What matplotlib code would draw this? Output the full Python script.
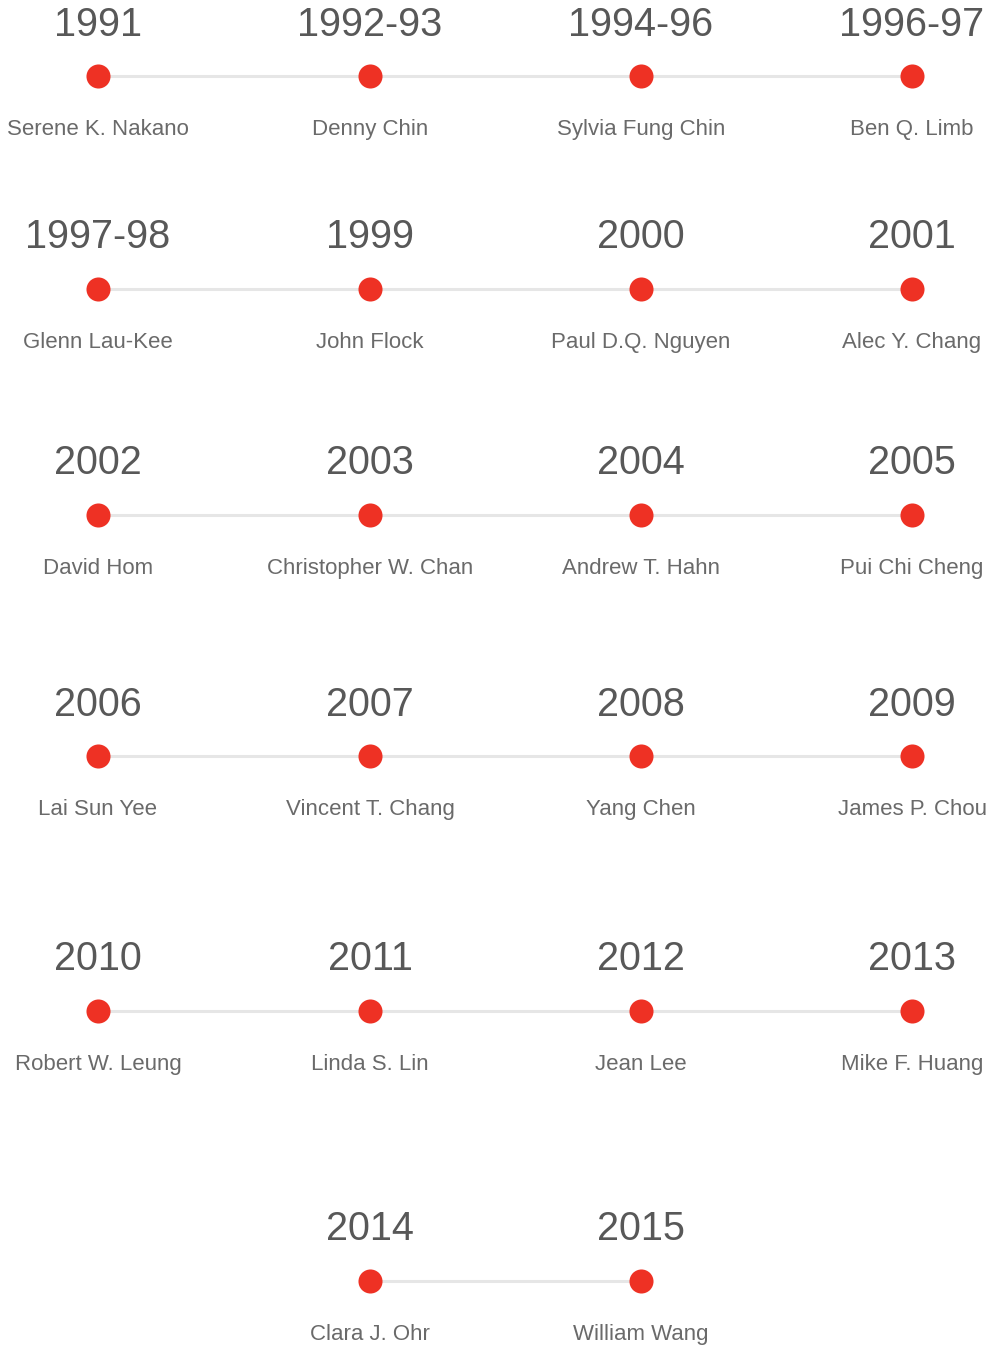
import matplotlib
matplotlib.use("Agg")
import matplotlib.pyplot as plt

# Timeline data
years = ["1991", "1992-93", "1994-96", "1996-97",
         "1997-98", "1999", "2000", "2001",
         "2002", "2003", "2004", "2005",
         "2006", "2007", "2008", "2009",
         "2010", "2011", "2012", "2013",
         "2014", "2015"]
names = ["Serene K. Nakano", "Denny Chin", "Sylvia Fung Chin", "Ben Q. Limb",
         "Glenn Lau-Kee", "John Flock", "Paul D.Q. Nguyen", "Alec Y. Chang",
         "David Hom", "Christopher W. Chan", "Andrew T. Hahn", "Pui Chi Cheng",
         "Lai Sun Yee", "Vincent T. Chang", "Yang Chen", "James P. Chou",
         "Robert W. Leung", "Linda S. Lin", "Jean Lee", "Mike F. Huang",
         "Clara J. Ohr", "William Wang"]

# Layout (pixel coordinates)
W, H = 989, 1345
col_x = [98, 370, 641, 912]
row_y = [76, 289, 515, 756, 1011, 1281]
per_row = 4
font = ["Liberation Sans", "DejaVu Sans"]

fig = plt.figure(figsize=(W / 100, H / 100), dpi=100)
ax = fig.add_axes([0, 0, 1, 1])
ax.set_xlim(0, W)
ax.set_ylim(H, 0)
ax.axis("off")

# Group entries into rows; the last row is centred
rows = [list(range(i, min(i + per_row, len(years)))) for i in range(0, len(years), per_row)]
for r, idx in enumerate(rows):
    offset = (per_row - len(idx)) // 2
    xs = [col_x[offset + k] for k in range(len(idx))]
    y = row_y[r]
    ax.plot([xs[0], xs[-1]], [y, y], color="#e6e6e6", lw=2.2, zorder=1, solid_capstyle="butt")
    ax.scatter(xs, [y] * len(xs), s=300, color="#ee3124", zorder=2, linewidths=0)
    for x, i in zip(xs, idx):
        ax.text(x, y - 40.5, years[i], ha="center", va="baseline", fontsize=28.5,
                color="#585858", family=font)
        ax.text(x, y + 59, names[i], ha="center", va="baseline", fontsize=16,
                color="#6a6a6a", family=font)

fig.savefig("out.png", dpi=100)
